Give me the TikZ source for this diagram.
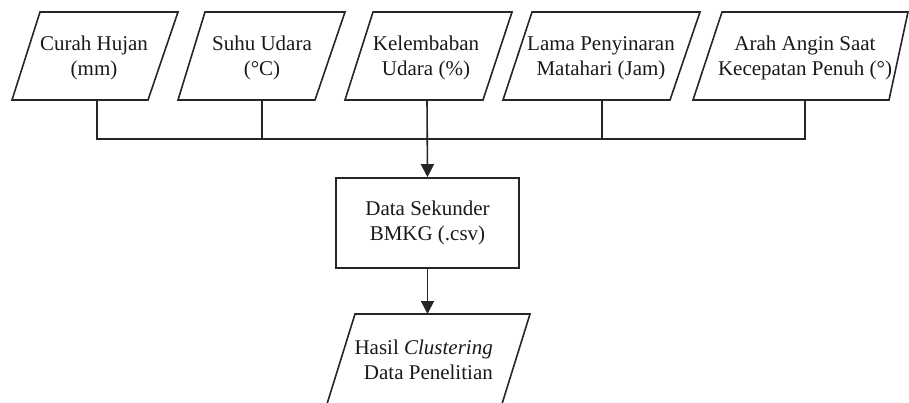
\documentclass[tikz,border=0pt]{standalone}
\usepackage{fontspec}
\setmainfont{Liberation Serif}
\usetikzlibrary{arrows.meta}
\begin{document}
\begin{tikzpicture}[x=1pt,y=-1pt,
  line/.style={draw=black!85,line width=1.6pt},
  arr/.style={line,-{Triangle[length=13pt,width=13pt]}},
  lbl/.style={inner sep=0pt,align=center,text=black!90,font=\fontsize{21}{25}\selectfont},
  procbox/.style={line,minimum width=183pt,minimum height=90pt,inner sep=0pt,align=center,text=black!90,font=\fontsize{21}{25}\selectfont}]
\useasboundingbox (0,0) rectangle (909,403);
\clip (0,0) rectangle (909,403);
% input parallelograms
\draw[line] (12,100) -- (148,100) -- (178,12) -- (40,12) -- cycle;
\draw[line] (178,100) -- (315,100) -- (345,12) -- (205,12) -- cycle;
\draw[line] (345,100) -- (483,100) -- (512,12) -- (373,12) -- cycle;
\draw[line] (503,100) -- (670,100) -- (700,12) -- (532,12) -- cycle;
\draw[line] (693,100) -- (889,100) -- (908,12) -- (722,12) -- cycle;
\node[lbl] (t1) at (94,58) {Curah Hujan\\(mm)};
\node[lbl] (t2) at (262,58) {Suhu Udara\\(°C)};
\node[lbl] (t3) at (426,58) {Kelembaban\\Udara (\%)};
\node[lbl] (t4) at (601,58) {Lama Penyinaran\\Matahari (Jam)};
\node[lbl] (t5) at (805,58) {Arah Angin Saat\\Kecepatan Penuh (°)};
\coordinate (b1) at (97,100);
\coordinate (b2) at (262,100);
\coordinate (b3) at (427,100);
\coordinate (b4) at (602,100);
\coordinate (b5) at (805,100);
\coordinate (j3) at (427,139);
% bus
\draw[line] (b1) -- (b1 |- j3) -- (b5 |- j3) -- (b5);
\draw[line] (b2) -- (b2 |- j3);
\draw[line] (b4) -- (b4 |- j3);
% process box
\node[procbox] (d) at (427.5,223) {Data Sekunder\\BMKG (.csv)};
\draw[arr] (b3) -- (d.north);
% output parallelogram
\coordinate (o) at (427.5,314);
\draw[line] (355,314) -- (530,314) -- (497,420) -- (322,420) -- cycle;
\node[lbl,align=right,anchor=east] (out) at (493,360) {Hasil \textit{Clustering}\\Data Penelitian};
\draw[arr] (d.south) -- (o);
\end{tikzpicture}
\end{document}
